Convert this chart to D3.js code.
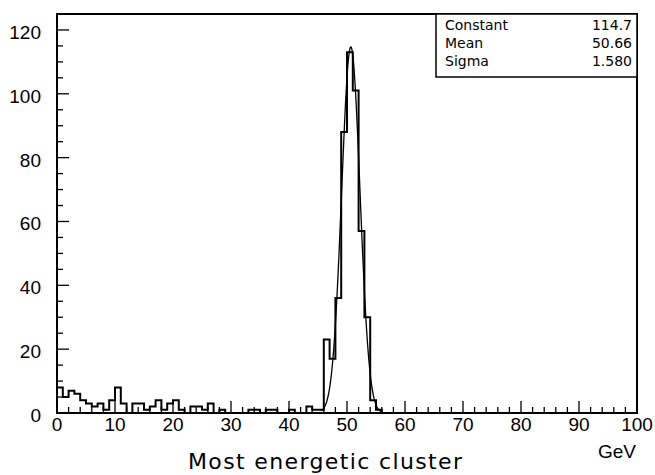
<!DOCTYPE html>
<html lang="en">
<head>
<meta charset="UTF-8">
<title>Most energetic cluster</title>
<script src="https://cdn.jsdelivr.net/npm/d3@7/dist/d3.min.js"></script>
<style>
  body { margin: 0; background: #fff; }
  svg { display: block; font-family: "Liberation Sans", Arial, sans-serif; }
  .tick-label { font-size: 19px; fill: #000; }
  .title { font-family: "DejaVu Sans", sans-serif; font-size: 22px; fill: #000; }
  .stats text { font-family: "DejaVu Sans", sans-serif; font-size: 14px; fill: #000; }
</style>
</head>
<body>
<svg width="655" height="475"></svg>
<script>
// histogram contents, 1 GeV bins from 0 to 100
const counts = [
  8, 5, 7, 6, 4, 3, 2, 3, 1, 4,
  8, 3, 0, 3, 3, 1, 2, 4, 1, 3,
  4, 1, 0, 2, 2, 1, 3, 0, 1, 0,
  0, 0, 0, 1, 1, 0, 1, 1, 0, 0,
  1, 0, 0, 2, 1, 1, 23, 17, 36, 88,
  113, 101, 57, 30, 4, 1, 0, 0, 0, 0,
  0, 0, 0, 0, 0, 0, 0, 0, 0, 0,
  0, 0, 0, 0, 0, 0, 0, 0, 0, 0,
  0, 0, 0, 0, 0, 0, 0, 0, 0, 0,
  0, 0, 0, 0, 0, 0, 0, 0, 0, 0
];
const xTickValues = [0, 10, 20, 30, 40, 50, 60, 70, 80, 90, 100];
const yTickValues = [0, 20, 40, 60, 80, 100, 120];
const statNames = ["Constant", "Mean", "Sigma"];
const statValues = ["114.7", "50.66", "1.580"];
const fitConstant = 114.7, fitMean = 50.66, fitSigma = 1.580;
const fitRange = [45.6, 56.2];

const svg = d3.select("svg");
const pLeft = 57, pRight = 637, pTop = 14, pBottom = 413;

const x = d3.scaleLinear().domain([0, 100]).range([pLeft, pRight]);
const y = d3.scaleLinear().domain([0, 125]).range([pBottom, pTop]);

// histogram outline
const pts = [[0, 0]];
counts.forEach((c, i) => pts.push([i, c]));
pts.push([counts.length, counts[counts.length - 1]]);
pts.push([counts.length, 0]);
const histLine = d3.line()
  .x(d => x(d[0]))
  .y(d => y(d[1]))
  .curve(d3.curveStepAfter);
svg.append("path")
  .attr("d", histLine(pts))
  .attr("fill", "none")
  .attr("stroke", "#000")
  .attr("stroke-width", 2);

// gaussian fit
const fitPts = d3.range(fitRange[0], fitRange[1] + 0.001, 0.05).map(v =>
  [v, fitConstant * Math.exp(-0.5 * Math.pow((v - fitMean) / fitSigma, 2))]);
svg.append("path")
  .attr("d", d3.line().x(d => x(d[0])).y(d => y(d[1]))(fitPts))
  .attr("fill", "none")
  .attr("stroke", "#000")
  .attr("stroke-width", 1.3);

// x axis ticks (inside, pointing up)
const xMinor = d3.range(0, 101, 2);
svg.append("g").selectAll("line").data(xMinor).join("line")
  .attr("x1", d => x(d)).attr("x2", d => x(d))
  .attr("y1", pBottom).attr("y2", d => pBottom - (d % 10 === 0 ? 12 : 6))
  .attr("stroke", "#000").attr("stroke-width", 1.3);
svg.append("g").selectAll("text").data(xTickValues).join("text")
  .attr("class", "tick-label")
  .attr("x", d => x(d)).attr("y", 431)
  .attr("text-anchor", "middle")
  .text(d => d);

// y axis ticks (inside, pointing right)
const yMinor = d3.range(0, 126, 5);
svg.append("g").selectAll("line").data(yMinor).join("line")
  .attr("x1", pLeft).attr("x2", d => pLeft + (d % 20 === 0 ? 12 : 6))
  .attr("y1", d => y(d)).attr("y2", d => y(d))
  .attr("stroke", "#000").attr("stroke-width", 1.3);
svg.append("g").selectAll("text").data(yTickValues).join("text")
  .attr("class", "tick-label")
  .attr("x", 41).attr("y", d => y(d) + 9)
  .attr("text-anchor", "end")
  .text(d => d);

// frame
svg.append("rect")
  .attr("x", pLeft).attr("y", pTop)
  .attr("width", pRight - pLeft).attr("height", pBottom - pTop)
  .attr("fill", "none").attr("stroke", "#000").attr("stroke-width", 2);

// axis titles
svg.append("text").attr("class", "tick-label")
  .attr("x", 636).attr("y", 458).attr("text-anchor", "end")
  .text("GeV");
svg.append("text").attr("class", "title")
  .attr("x", 188).attr("y", 469)
  .attr("textLength", 274).attr("lengthAdjust", "spacing")
  .text("Most energetic cluster");

// stats box
const box = svg.append("g").attr("class", "stats");
const bx0 = 436;
box.append("rect")
  .attr("x", bx0).attr("y", pTop)
  .attr("width", pRight - bx0).attr("height", 63)
  .attr("fill", "#fff").attr("stroke", "#000").attr("stroke-width", 1.5);
statNames.forEach((n, i) => {
  box.append("text").attr("x", 445).attr("y", pTop + 16 + i * 18).text(n);
  box.append("text").attr("x", 632).attr("y", pTop + 16 + i * 18)
    .attr("text-anchor", "end").text(statValues[i]);
});
</script>
</body>
</html>
